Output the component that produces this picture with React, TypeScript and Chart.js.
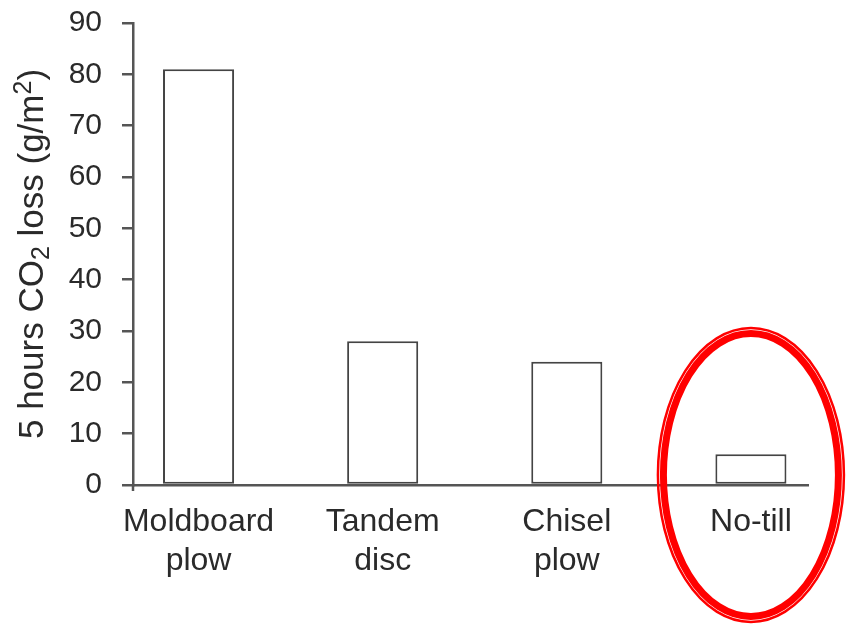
import React, { useEffect, useRef } from "react";
import { Chart, registerables } from "chart.js";

Chart.register(...registerables);

const categories: string[][] = [["Moldboard", "plow"], ["Tandem", "disc"], ["Chisel", "plow"], ["No-till"]];
const values: number[] = [81, 28, 24, 6];
const yMin = 0;
const yMax = 90;
const yStep = 10;
const titleParts = [
  { text: "5 hours CO", kind: "n" },
  { text: "2", kind: "sub" },
  { text: " loss (g/m", kind: "n" },
  { text: "2", kind: "sup" },
  { text: ")", kind: "n" },
];
const highlightIndex = 3;

const FONT = "'Liberation Sans', Arial, Helvetica, sans-serif";
const AXIS = "#555555";
const TEXT = "#2a2a2a";

const titlePlugin = {
  id: "yTitle",
  afterDraw(chart: any) {
    const ctx = chart.ctx;
    const area = chart.chartArea;
    const size = 35;
    const small = 25;
    ctx.save();
    const measure = (p: any) => {
      ctx.font = `${p.kind === "n" ? size : small}px ${FONT}`;
      return ctx.measureText(p.text).width;
    };
    const total = titleParts.reduce((s, p) => s + measure(p), 0);
    const cy = (area.top + area.bottom) / 2;
    ctx.translate(43, cy);
    ctx.rotate(-Math.PI / 2);
    ctx.fillStyle = TEXT;
    ctx.textBaseline = "alphabetic";
    ctx.textAlign = "left";
    let x = -total / 2;
    for (const p of titleParts) {
      const w = measure(p);
      ctx.font = `${p.kind === "n" ? size : small}px ${FONT}`;
      const dy = p.kind === "sub" ? 6 : p.kind === "sup" ? -12 : 0;
      ctx.fillText(p.text, x, dy);
      x += w;
    }
    ctx.restore();
  },
};

const ellipsePlugin = {
  id: "highlight",
  afterDraw(chart: any) {
    const ctx = chart.ctx;
    const xs = chart.scales.x;
    const ys = chart.scales.y;
    const cx = xs.getPixelForValue(highlightIndex);
    const cy = ys.getPixelForValue(0) - 10;
    ctx.save();
    ctx.strokeStyle = "#ff0000";
    ctx.lineWidth = 2.5;
    ctx.beginPath();
    ctx.ellipse(cx, cy, 93, 147, 0, 0, Math.PI * 2);
    ctx.stroke();
    ctx.lineWidth = 7;
    ctx.beginPath();
    ctx.ellipse(cx, cy, 87.5, 141.5, 0, 0, Math.PI * 2);
    ctx.stroke();
    ctx.restore();
  },
};

const axisStubPlugin = {
  id: "axisStub",
  afterDraw(chart: any) {
    const ctx = chart.ctx;
    const a = chart.chartArea;
    ctx.save();
    ctx.strokeStyle = AXIS;
    ctx.lineWidth = 2.5;
    ctx.beginPath();
    ctx.moveTo(a.left, a.bottom);
    ctx.lineTo(a.left, a.bottom + 6);
    ctx.stroke();
    ctx.restore();
  },
};

export default function App() {
  const ref = useRef<HTMLCanvasElement | null>(null);
  useEffect(() => {
    if (!ref.current) return;
    const chart = new Chart(ref.current, {
      type: "bar",
      data: {
        datasets: [
          {
            data: values.map((v, i) => ({ x: i, y: v })),
            backgroundColor: "#ffffff",
            borderColor: "#444444",
            borderWidth: 2,
            borderSkipped: false,
            barPercentage: 0.386,
            categoryPercentage: 1,
          },
        ],
      },
      options: {
        animation: false,
        responsive: true,
        maintainAspectRatio: false,
        layout: { padding: { top: 23, right: 38, left: 0, bottom: 0 } },
        plugins: { legend: { display: false }, tooltip: { enabled: false } },
        scales: {
          x: {
            type: "linear",
            offset: false,
            min: -0.356,
            max: 3.31,
            afterBuildTicks: (s: any) => {
              s.ticks = categories.map((_, i) => ({ value: i }));
            },
            afterFit: (s: any) => {
              s.height = 139;
              s.paddingLeft = 0;
              s.paddingRight = 0;
            },
            ticks: {
              callback: (v: any) => categories[v] ?? "",
              font: { family: FONT, size: 32, lineHeight: 1.22 },
              color: TEXT,
              padding: 18,
              maxRotation: 0,
              autoSkip: false,
            },
            grid: { display: true, drawOnChartArea: false, drawTicks: false },
            border: { display: true, color: AXIS, width: 2.5 },
          },
          y: {
            min: yMin,
            max: yMax,
            afterFit: (s: any) => {
              s.width = 133;
              s.paddingTop = 0;
              s.paddingBottom = 0;
            },
            ticks: {
              stepSize: yStep,
              font: { family: FONT, size: 30 },
              color: TEXT,
              padding: 20,
            },
            grid: { drawOnChartArea: false, drawTicks: true, tickLength: 11, color: AXIS, lineWidth: 2.5 },
            border: { display: true, color: AXIS, width: 2.5 },
          },
        },
      },
      plugins: [titlePlugin, ellipsePlugin, axisStubPlugin],
    });
    return () => chart.destroy();
  }, []);
  return (
    <div style={{ position: "fixed", left: 0, top: 0, width: 846, height: 624, background: "#fff" }}>
      <canvas ref={ref} />
    </div>
  );
}
